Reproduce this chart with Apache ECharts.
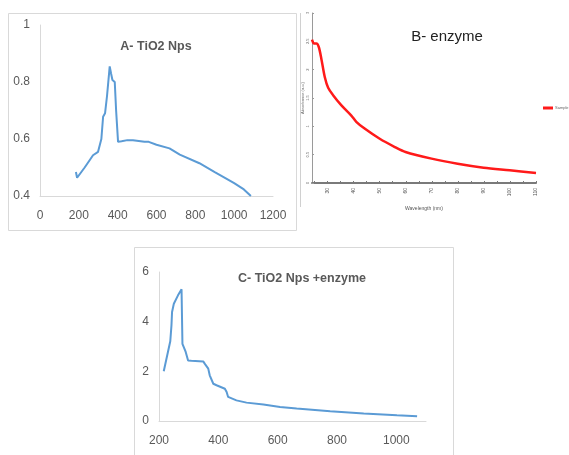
<!DOCTYPE html>
<html>
<head>
<meta charset="utf-8">
<style>
  html, body { margin: 0; padding: 0; background: #ffffff; }
  #chart { width: 569px; height: 455px; }
</style>
<script src="https://cdn.jsdelivr.net/npm/echarts@6/dist/echarts.min.js"></script>
</head>
<body>
<div id="chart"></div>
<script>
// Panel A: TiO2 nanoparticles spectrum
const waveA = [185, 191, 230, 260, 273, 299, 305, 316, 325, 335, 345, 359, 366, 373, 385, 392, 402, 420, 450, 479, 538, 560, 600, 667, 720, 821, 900, 957, 1000, 1050, 1086];
const absA  = [0.484, 0.464, 0.50, 0.53, 0.543, 0.555, 0.56, 0.60, 0.678, 0.69, 0.75, 0.855, 0.83, 0.807, 0.80, 0.70, 0.59, 0.592, 0.596, 0.596, 0.59, 0.59, 0.58, 0.567, 0.545, 0.515, 0.484, 0.462, 0.445, 0.423, 0.40];

// Panel B: enzyme spectrum
const waveB = [24, 24.8, 25.7, 26.6, 27.6, 28.9, 30.2, 32.1, 35.3, 39.1, 41, 44.2, 50, 55.8, 59.9, 69.9, 79.9, 89.9, 99.9, 110];
const absB  = [2.53, 2.46, 2.46, 2.40, 2.19, 1.87, 1.68, 1.55, 1.37, 1.19, 1.08, 0.96, 0.78, 0.635, 0.547, 0.43, 0.34, 0.27, 0.224, 0.176];
const ticksBx = [30, 40, 50, 60, 70, 80, 90, 100, 110];
const minorBx = [25, 30, 35, 40, 45, 50, 55, 60, 65, 70, 75, 80, 85, 90, 95, 100, 105, 110];
const ticksBy = [0, 0.5, 1, 1.5, 2, 2.5, 3];

// Panel C: TiO2 nanoparticles + enzyme spectrum
const waveC = [216, 238, 242, 244, 250, 264, 276, 279, 285, 290, 298, 309, 349, 354, 366, 371, 377, 383, 394, 422, 428, 433, 439, 461, 495, 552, 608, 664, 777, 890, 1002, 1070];
const absC  = [2.0, 3.21, 3.85, 4.39, 4.72, 5.06, 5.30, 3.11, 3.11, 2.78, 2.44, 2.43, 2.40, 2.31, 2.11, 1.84, 1.77, 1.50, 1.44, 1.30, 1.17, 0.97, 0.93, 0.83, 0.74, 0.66, 0.56, 0.50, 0.39, 0.30, 0.23, 0.19];

const pairs = (xs, ys) => xs.map((x, i) => [x, ys[i]]);

const FONT = "'Liberation Sans', sans-serif";
const GREY = '#595959';
const AXIS_GREY = '#d9d9d9';

const excelX = (min, max, interval) => ({
  type: 'value', min, max, interval,
  axisLine: { show: true, lineStyle: { color: AXIS_GREY, width: 1 } },
  axisTick: { show: false },
  splitLine: { show: false },
  axisLabel: {
    color: GREY, fontSize: 12, fontFamily: FONT, margin: 14,
    formatter: v => (v % 200 === 0 ? String(v) : '')
  }
});
const excelY = (min, max, interval) => ({
  type: 'value', min, max, interval,
  axisLine: { show: true, lineStyle: { color: AXIS_GREY, width: 1 } },
  axisTick: { show: false },
  splitLine: { show: false },
  axisLabel: { color: GREY, fontSize: 12, fontFamily: FONT, margin: 10 }
});

const chart = echarts.init(document.getElementById('chart'), null, { renderer: 'canvas' });

chart.setOption({
  backgroundColor: '#ffffff',
  animation: false,
  title: [
    { text: 'A- TiO2 Nps', left: 151, top: 35, textAlign: 'center',
      textStyle: { color: GREY, fontSize: 12.5, fontWeight: 'bold', fontFamily: FONT } },
    { text: 'B- enzyme', left: 442, top: 24, textAlign: 'center',
      textStyle: { color: '#222222', fontSize: 15, fontWeight: 'normal', fontFamily: FONT } },
    { text: 'C- TiO2 Nps +enzyme', left: 297, top: 267, textAlign: 'center',
      textStyle: { color: GREY, fontSize: 12.5, fontWeight: 'bold', fontFamily: FONT } }
  ],
  legend: {
    data: ['Sample'], left: 543, top: 106, padding: 0, itemWidth: 10, itemHeight: 3, itemGap: 2,
    icon: 'rect',
    textStyle: { fontSize: 4, color: '#666666', padding: [0, 0, 0, -3] }
  },
  graphic: [
    { type: 'rect', shape: { x: 8.5, y: 13.5, width: 288, height: 217 },
      style: { fill: 'none', stroke: AXIS_GREY, lineWidth: 1 }, silent: true },
    { type: 'line', shape: { x1: 300.5, y1: 13, x2: 300.5, y2: 207 },
      style: { stroke: '#d0d0d0', lineWidth: 1 }, silent: true },
    { type: 'rect', shape: { x: 134.5, y: 247.5, width: 319, height: 220 },
      style: { fill: 'none', stroke: AXIS_GREY, lineWidth: 1 }, silent: true }
  ],
  grid: [
    { left: 40, top: 25, width: 233, height: 171 },
    { left: 312, top: 13, width: 224, height: 170 },
    { left: 159, top: 272, width: 267, height: 149 }
  ],
  xAxis: [
    Object.assign(excelX(0, 1200, 200), { gridIndex: 0 }),
    {
      gridIndex: 1, type: 'value', min: 24, max: 110,
      name: 'Wavelength (nm)', nameLocation: 'middle', nameGap: 23,
      nameTextStyle: { fontSize: 5, color: '#555555' },
      axisLine: { show: true, lineStyle: { color: '#7a7a7a', width: 2 } },
      axisTick: { show: true, length: 2, inside: true, customValues: minorBx, lineStyle: { color: '#7a7a7a' } },
      splitLine: { show: false },
      axisLabel: { customValues: ticksBx, fontSize: 5, color: '#555555', rotate: 90, margin: 5 }
    },
    Object.assign(excelX(200, 1100, 200), { gridIndex: 2 })
  ],
  yAxis: [
    Object.assign(excelY(0.4, 1, 0.2), { gridIndex: 0 }),
    {
      gridIndex: 1, type: 'value', min: 0, max: 3,
      name: 'Absorbance (a.u.)', nameLocation: 'middle', nameGap: 6,
      nameTextStyle: { fontSize: 4, color: '#666666' },
      axisLine: { show: true, lineStyle: { color: '#9a9a9a', width: 1 } },
      axisTick: { show: true, length: 2, inside: true, customValues: ticksBy, lineStyle: { color: '#9a9a9a' } },
      splitLine: { show: false },
      axisLabel: { customValues: ticksBy, fontSize: 4, color: '#666666', rotate: 90, margin: 2 }
    },
    Object.assign(excelY(0, 6, 2), { gridIndex: 2 })
  ],
  series: [
    { name: 'TiO2 Nps', type: 'line', xAxisIndex: 0, yAxisIndex: 0,
      data: pairs(waveA, absA), showSymbol: false,
      lineStyle: { color: '#5b9bd5', width: 2 }, itemStyle: { color: '#5b9bd5' } },
    { name: 'Sample', type: 'line', xAxisIndex: 1, yAxisIndex: 1,
      data: pairs(waveB, absB), showSymbol: false, smooth: 0.3,
      lineStyle: { color: '#ff1a1a', width: 2.5 }, itemStyle: { color: '#ff1a1a' } },
    { name: 'TiO2 Nps +enzyme', type: 'line', xAxisIndex: 2, yAxisIndex: 2,
      data: pairs(waveC, absC), showSymbol: false,
      lineStyle: { color: '#5b9bd5', width: 2 }, itemStyle: { color: '#5b9bd5' } }
  ]
});
</script>
</body>
</html>
